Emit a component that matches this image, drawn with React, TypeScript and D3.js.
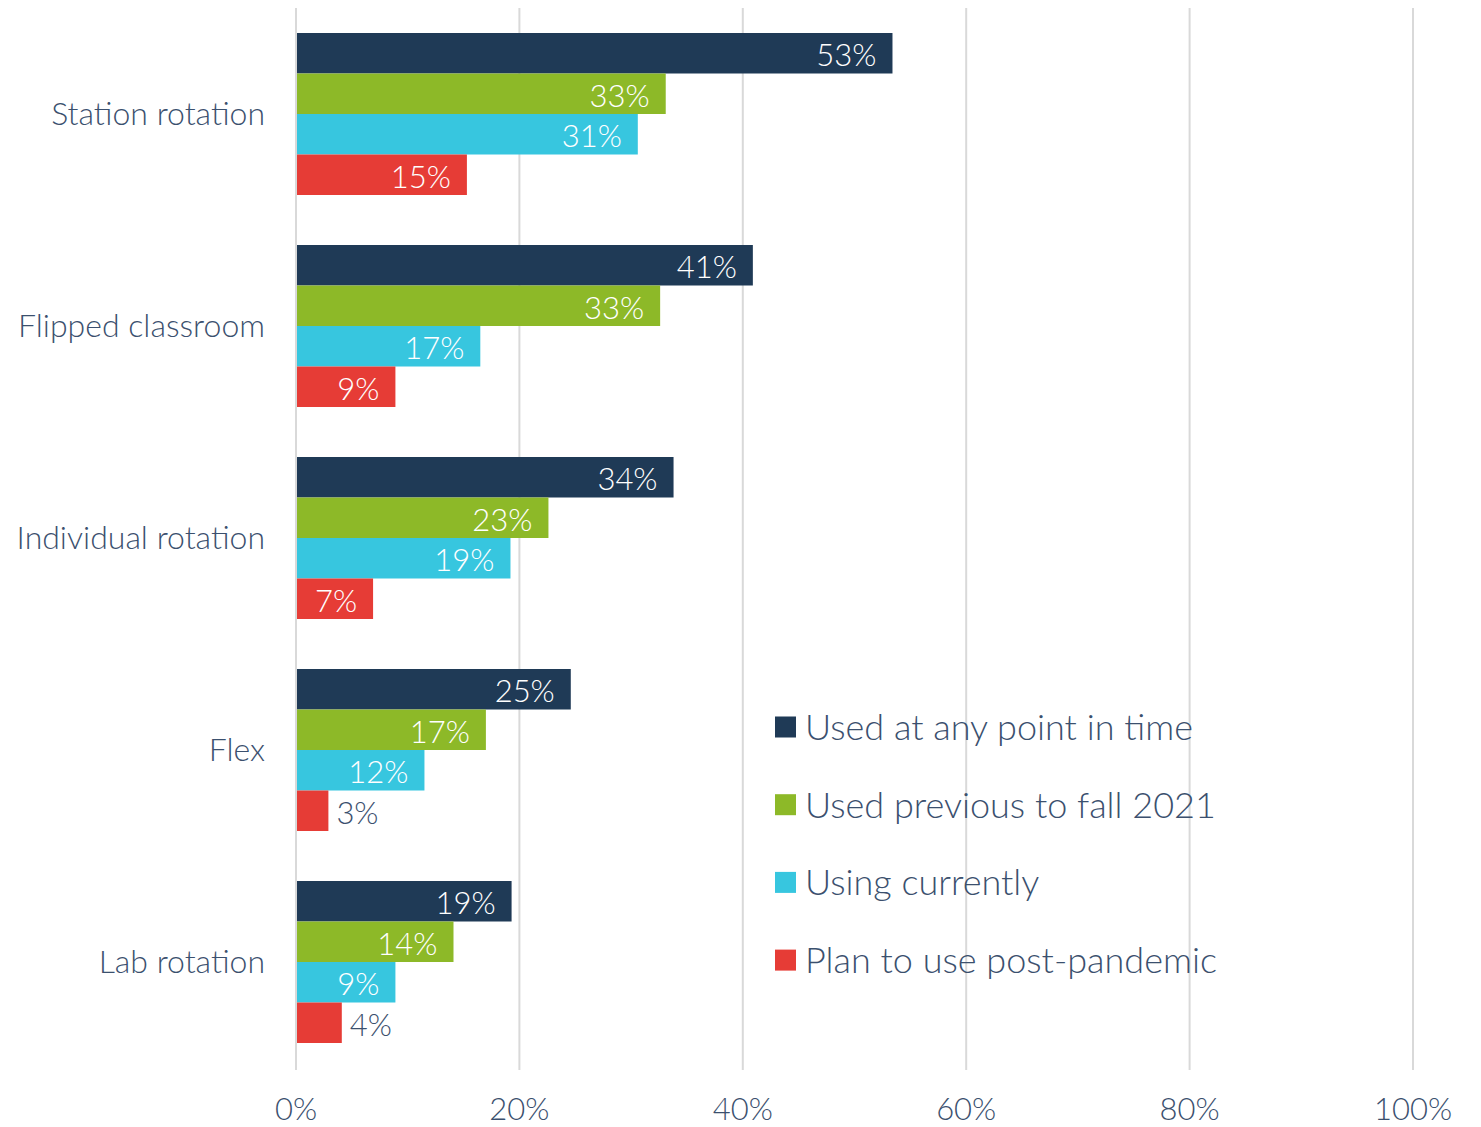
import React from "react";
import * as d3 from "d3";

const categories = ["Station rotation", "Flipped classroom", "Individual rotation", "Flex", "Lab rotation"];
const seriesNames = ["Used at any point in time", "Used previous to fall 2021", "Using currently", "Plan to use post-pandemic"];
const seriesColors = ["#1f3a56", "#8db928", "#37c6df", "#e63c36"];
const usedAny = [53.4, 40.9, 33.8, 24.6, 19.3];
const usedPrevious = [33.1, 32.6, 22.6, 17.0, 14.1];
const usingCurrently = [30.6, 16.5, 19.2, 11.5, 8.9];
const planPost = [15.3, 8.9, 6.9, 2.9, 4.1];
const valueLabels = [
  ["53%", "41%", "34%", "25%", "19%"],
  ["33%", "33%", "23%", "17%", "14%"],
  ["31%", "17%", "19%", "12%", "9%"],
  ["15%", "9%", "7%", "3%", "4%"],
];
const xTicks = [0, 20, 40, 60, 80, 100];

const W = 1481;
const H = 1127;
const TEXT = "#3b506e";
const FONT = "Lato, 'Open Sans', sans-serif";

export default function App() {
  const series = [usedAny, usedPrevious, usingCurrently, planPost];
  const x = d3.scaleLinear().domain([0, 100]).range([296, 1413]);
  const y = d3.scaleBand().domain(categories).range([8, 1068]).paddingInner(50 / 212).paddingOuter(25 / 212);
  const inner = d3.scaleBand().domain(seriesNames).range([0, y.bandwidth()]);

  return (
    <div style={{ position: "fixed", left: 0, top: 0, width: W, height: H, overflow: "hidden" }}>
      <svg width={W} height={H} style={{ display: "block", background: "#fff" }}>
        {xTicks.map((t) => (
          <line key={t} x1={x(t)} x2={x(t)} y1={8} y2={1070} stroke="#d9d9d9" strokeWidth={2} />
        ))}
        {categories.map((c, ci) => (
          <g key={c}>
            <text
              x={265}
              y={(y(c) as number) + y.bandwidth() / 2}
              dy="0.35em"
              textAnchor="end"
              fontFamily={FONT}
              fontWeight={300}
              fontSize={32}
              fill={TEXT}
            >
              {c}
            </text>
            {series.map((s, si) => {
              const y0 = (y(c) as number) + (inner(seriesNames[si]) as number);
              const x1 = x(s[ci]);
              const outside = s[ci] < 5;
              return (
                <g key={si}>
                  <rect x={x(0)} y={y0} width={x1 - x(0)} height={inner.bandwidth()} fill={seriesColors[si]} />
                  <text
                    x={outside ? x1 + 8 : x1 - 16}
                    y={y0 + inner.bandwidth() / 2}
                    dy="0.42em"
                    textAnchor={outside ? "start" : "end"}
                    fontFamily={FONT}
                    fontWeight={300}
                    fontSize={31}
                    fill={outside ? TEXT : "#ffffff"}
                  >
                    {valueLabels[si][ci]}
                  </text>
                </g>
              );
            })}
          </g>
        ))}
        <line x1={x(0)} x2={x(0)} y1={8} y2={1070} stroke="#d9d9d9" strokeWidth={2} />
        {xTicks.map((t) => (
          <text
            key={t}
            x={x(t)}
            y={1120}
            textAnchor="middle"
            fontFamily={FONT}
            fontWeight={300}
            fontSize={31}
            fill={TEXT}
          >
            {t + "%"}
          </text>
        ))}
        {seriesNames.map((n, i) => (
          <g key={n} transform={`translate(775,${727 + i * 77.7})`}>
            <rect x={0} y={-10.5} width={21} height={21} fill={seriesColors[i]} />
            <text x={30} y={0} dy="0.36em" fontFamily={FONT} fontWeight={300} fontSize={36} fill={TEXT}>
              {n}
            </text>
          </g>
        ))}
      </svg>
    </div>
  );
}
